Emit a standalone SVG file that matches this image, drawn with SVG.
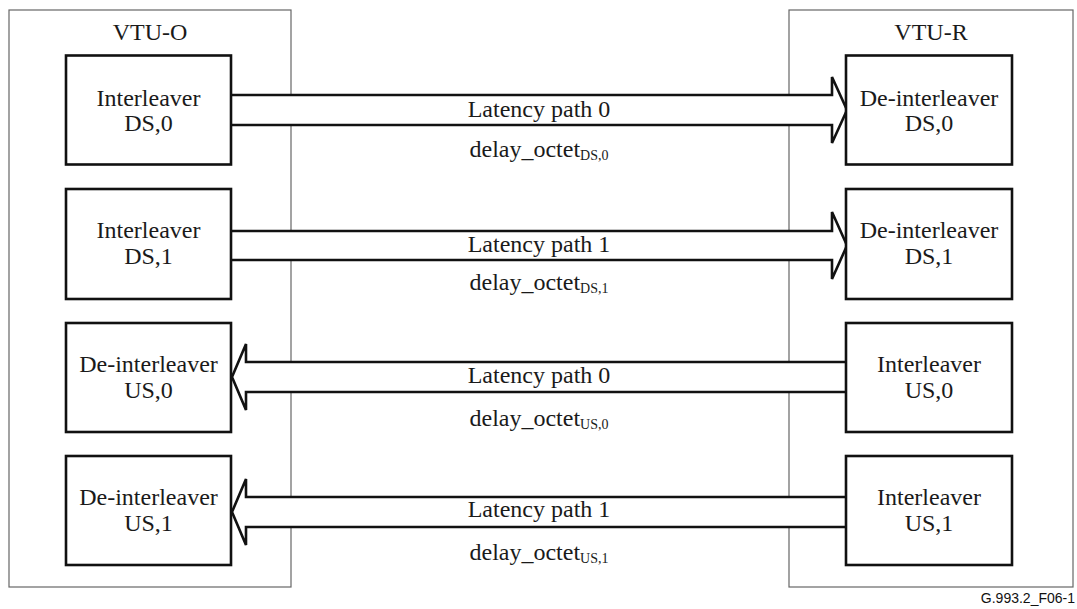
<svg xmlns="http://www.w3.org/2000/svg" width="1077" height="609" viewBox="0 0 1077 609">
<style>
.unit{fill:none;stroke:#666;stroke-width:1.2}
.box{fill:#fff;stroke:#111;stroke-width:2.6}
.arr{fill:#fff;stroke:#111;stroke-width:2.6;stroke-linejoin:miter}
.t{font-family:"Liberation Serif","Times New Roman",serif;font-size:24px;fill:#1a1a1a;text-anchor:middle}
.sub{font-size:14px}
.foot{font-family:"Liberation Sans",Arial,sans-serif;font-size:14px;fill:#111;text-anchor:end}
</style>
<rect width="1077" height="609" fill="#fff"/>
<g id="vtu-o">
<rect class="unit" x="9" y="10" width="282" height="577"/>
<text class="t" x="150" y="40">VTU-O</text>
</g>
<g id="vtu-r">
<rect class="unit" x="789" y="10" width="284" height="577"/>
<text class="t" x="931" y="40">VTU-R</text>
</g>
<g id="connectors">
<path class="arr" d="M231,95 L832,95 L832,77 L847,110 L832,143 L832,125 L231,125"/>
<path class="arr" d="M231,231 L832,231 L832,212 L847,245.5 L832,279 L832,260 L231,260"/>
<path class="arr" d="M846,362 L246,362 L246,344 L232,377 L246,410 L246,392 L846,392"/>
<path class="arr" d="M846,497 L246,497 L246,479 L232,512 L246,545 L246,527 L846,527"/>
<text class="t" x="539" y="117">Latency path 0</text>
<text class="t" x="539" y="157">delay_octet<tspan class="sub" dy="3">DS,0</tspan></text>
<text class="t" x="539" y="252">Latency path 1</text>
<text class="t" x="539" y="290">delay_octet<tspan class="sub" dy="3">DS,1</tspan></text>
<text class="t" x="539" y="383">Latency path 0</text>
<text class="t" x="539" y="426">delay_octet<tspan class="sub" dy="3">US,0</tspan></text>
<text class="t" x="539" y="517">Latency path 1</text>
<text class="t" x="539" y="560">delay_octet<tspan class="sub" dy="3">US,1</tspan></text>
</g>
<g id="interleaver-ds0">
<rect class="box" x="66" y="55.5" width="165" height="109"/>
<text class="t" x="148.5" y="106">Interleaver</text>
<text class="t" x="148.5" y="131">DS,0</text>
</g>
<g id="interleaver-ds1">
<rect class="box" x="66" y="189" width="165" height="110"/>
<text class="t" x="148.5" y="238">Interleaver</text>
<text class="t" x="148.5" y="264">DS,1</text>
</g>
<g id="deinterleaver-us0">
<rect class="box" x="66" y="323" width="165" height="109"/>
<text class="t" x="148.5" y="372">De-interleaver</text>
<text class="t" x="148.5" y="398">US,0</text>
</g>
<g id="deinterleaver-us1">
<rect class="box" x="66" y="456" width="165" height="109"/>
<text class="t" x="148.5" y="505">De-interleaver</text>
<text class="t" x="148.5" y="531">US,1</text>
</g>
<g id="deinterleaver-ds0">
<rect class="box" x="846" y="55.5" width="166" height="109"/>
<text class="t" x="929" y="106">De-interleaver</text>
<text class="t" x="929" y="131">DS,0</text>
</g>
<g id="deinterleaver-ds1">
<rect class="box" x="846" y="189" width="166" height="110"/>
<text class="t" x="929" y="238">De-interleaver</text>
<text class="t" x="929" y="264">DS,1</text>
</g>
<g id="interleaver-us0">
<rect class="box" x="846" y="323" width="166" height="109"/>
<text class="t" x="929" y="372">Interleaver</text>
<text class="t" x="929" y="398">US,0</text>
</g>
<g id="interleaver-us1">
<rect class="box" x="846" y="456" width="166" height="109"/>
<text class="t" x="929" y="505">Interleaver</text>
<text class="t" x="929" y="531">US,1</text>
</g>
<text class="foot" x="1075" y="603">G.993.2_F06-1</text>
</svg>
